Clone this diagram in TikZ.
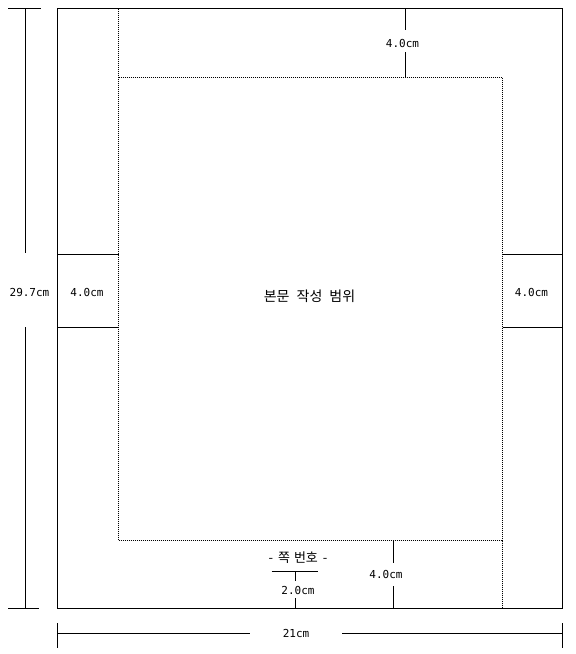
\documentclass[tikz,border=0pt]{standalone}
\usepackage{fontspec}
\newfontfamily\krfont{Noto Sans CJK KR}
\newfontfamily\monofont{DejaVu Sans Mono}
\begin{document}
\begin{tikzpicture}[x=1pt,y=-1pt,line width=1pt,
  dotline/.style={line width=1pt,dash pattern=on 1pt off 1pt},
  lbl/.style={font=\monofont\fontsize{11}{13}\selectfont,inner sep=0pt},
  krl/.style={font=\krfont\fontsize{14}{16}\selectfont,inner sep=0pt}]
\useasboundingbox (0,0) rectangle (576,654);
% page
\coordinate (pTL) at (57.5,8.5);
\coordinate (pBR) at (562.5,608.5);
\draw (pTL) rectangle (pBR);
% writing area (dotted)
\coordinate (dTopL) at (118.5,8.5);
\coordinate (dTL) at (118.5,77.5);
\coordinate (dTR) at (502.5,77.5);
\coordinate (dBL) at (118.5,540.5);
\coordinate (dBR) at (502.5,540.5);
\coordinate (dBotR) at (502.5,608.5);
\draw[dotline] (dTopL) -- (dBL) -- (dBR) -- (dBotR);
\draw[dotline] (dTL) -- (dTR) -- (dBR);
% top margin
\node[lbl] (ttop) at (402.5,43.5) {4.0cm};
\coordinate (t1) at (405.5,8.5); \coordinate (t2) at (405.5,30);
\coordinate (t3) at (405.5,52); \coordinate (t4) at (405.5,77.5);
\draw (t1) -- (t2); \draw (t3) -- (t4);
% left margin
\node[lbl] (tleft) at (87,292) {4.0cm};
\coordinate (l1) at (57.5,254.5); \coordinate (l2) at (118.5,254.5);
\coordinate (l3) at (57.5,327.5); \coordinate (l4) at (118.5,327.5);
\draw (l1) -- (l2); \draw (l3) -- (l4);
% right margin
\node[lbl] (tright) at (531.5,292) {4.0cm};
\coordinate (r1) at (502.5,254.5); \coordinate (r2) at (562.5,254.5);
\coordinate (r3) at (502.5,327.5); \coordinate (r4) at (562.5,327.5);
\draw (r1) -- (r2); \draw (r3) -- (r4);
% height 29.7
\node[lbl] (th) at (29.5,292) {29.7cm};
\coordinate (h0a) at (8,8.5); \coordinate (h0b) at (41,8.5);
\coordinate (h1) at (25.5,8.5); \coordinate (h2) at (25.5,253);
\coordinate (h3) at (25.5,327); \coordinate (h4) at (25.5,608.5);
\coordinate (h5a) at (8,608.5); \coordinate (h5b) at (39,608.5);
\draw (h0a) -- (h0b); \draw (h1) -- (h2); \draw (h3) -- (h4); \draw (h5a) -- (h5b);
% width 21
\node[lbl] (tw) at (296,633) {21cm};
\coordinate (w0a) at (57.5,623); \coordinate (w0b) at (57.5,647.5);
\coordinate (w1) at (57.5,633.5); \coordinate (w2) at (250,633.5);
\coordinate (w3) at (342,633.5); \coordinate (w4) at (562.5,633.5);
\coordinate (w5a) at (562.5,623); \coordinate (w5b) at (562.5,647.5);
\draw (w0a) -- (w0b); \draw (w1) -- (w2); \draw (w3) -- (w4); \draw (w5a) -- (w5b);
% bottom margin
\node[lbl] (tbot) at (386,574.5) {4.0cm};
\coordinate (b1) at (393.5,540.5); \coordinate (b2) at (393.5,563);
\coordinate (b3) at (393.5,586); \coordinate (b4) at (393.5,608.5);
\draw (b1) -- (b2); \draw (b3) -- (b4);
% page number
\node[krl,font=\krfont\fontsize{13}{15}\selectfont] (pn) at (298,557.5) {-\hspace{5pt}쪽\hspace{4pt}번호\hspace{5pt}-};
\node[lbl] (tpn) at (298,590) {2.0cm};
\coordinate (n0a) at (271.5,571.5); \coordinate (n0b) at (318,571.5);
\coordinate (n1) at (295.5,571.5); \coordinate (n2) at (295.5,581);
\coordinate (n3) at (295.5,598); \coordinate (n4) at (295.5,608.5);
\draw (n0a) -- (n0b); \draw (n1) -- (n2); \draw (n3) -- (n4);
% body text
\node[krl] (body) at (309.5,296) {본문\hspace{7pt}작성\hspace{7pt}범위};
\end{tikzpicture}
\end{document}
